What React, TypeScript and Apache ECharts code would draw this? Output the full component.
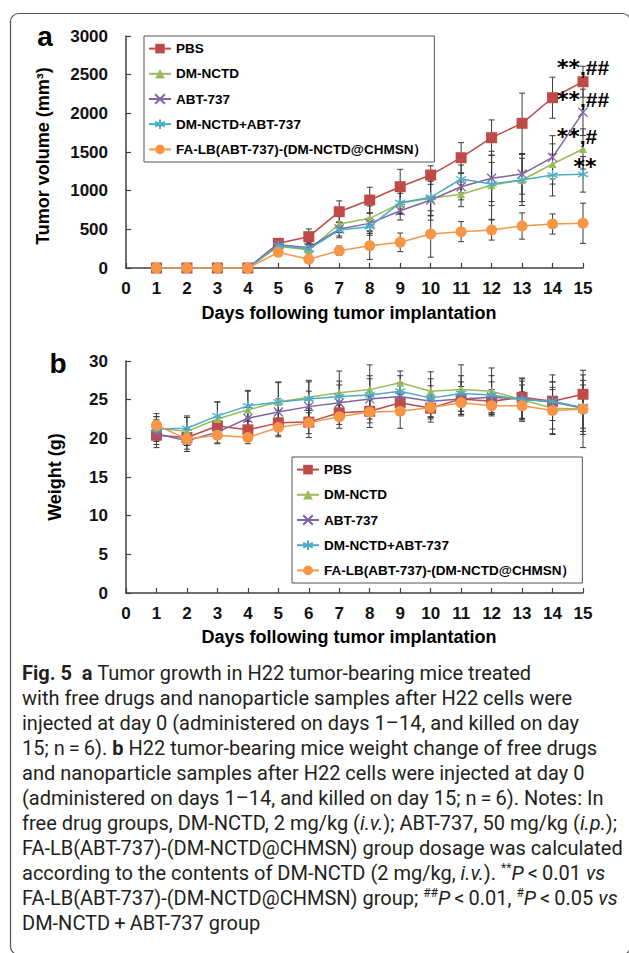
import React, { useEffect, useRef } from 'react';
import * as echarts from 'echarts';

// ---------- data ----------
const days = [1, 2, 3, 4, 5, 6, 7, 8, 9, 10, 11, 12, 13, 14, 15];
const groupNames = ['PBS', 'DM-NCTD', 'ABT-737', 'DM-NCTD+ABT-737', 'FA-LB(ABT-737)-(DM-NCTD@CHMSN）'];

// Tumor volume (mm3), panel a
const pbsVol = [0, 0, 0, 0, 319, 405, 728, 879, 1051, 1202, 1426, 1685, 1871, 2202, 2409];
const dmVol = [0, 0, 0, 0, 280, 233, 569, 642, 836, 901, 953, 1069, 1138, 1345, 1539];
const abtVol = [0, 0, 0, 0, 300, 262, 504, 577, 741, 879, 1051, 1160, 1215, 1431, 2013];
const comboVol = [0, 0, 0, 0, 290, 245, 491, 534, 845, 914, 1151, 1086, 1138, 1202, 1211];
const faVol = [0, 0, 0, 0, 203, 112, 224, 289, 332, 440, 470, 491, 543, 569, 578];

const pbsVolSd = [0, 0, 0, 0, 60, 100, 140, 165, 225, 120, 195, 230, 390, 265, 200];
const dmVolSd = [0, 0, 0, 0, 50, 70, 110, 160, 130, 220, 160, 440, 280, 260, 260];
const abtVolSd = [0, 0, 0, 0, 45, 60, 90, 130, 120, 260, 170, 300, 260, 280, 300];
const comboVolSd = [0, 0, 0, 0, 50, 80, 100, 110, 150, 240, 180, 280, 330, 270, 230];
const faVolSd = [0, 0, 0, 0, 40, 50, 60, 180, 120, 300, 130, 130, 170, 130, 260];

// Weight (g), panel b
const pbsW = [20.4, 20.1, 21.6, 21.1, 22.0, 22.1, 23.3, 23.5, 24.6, 23.9, 25.1, 24.8, 25.3, 24.8, 25.7];
const dmW = [21.3, 20.9, 22.5, 23.7, 24.7, 25.3, 25.9, 26.3, 27.2, 26.1, 26.3, 26.1, 25.0, 23.9, 23.8];
const abtW = [20.6, 19.7, 20.8, 22.6, 23.4, 24.1, 24.6, 25.1, 25.4, 24.8, 25.1, 25.3, 25.1, 24.7, 23.9];
const comboW = [21.2, 21.3, 22.9, 24.2, 24.7, 25.1, 25.4, 25.6, 26.1, 25.2, 25.8, 25.6, 25.0, 24.8, 24.0];
const faW = [21.7, 19.9, 20.4, 20.1, 21.4, 22.0, 22.8, 23.4, 23.5, 24.0, 24.6, 24.2, 24.2, 23.6, 23.8];

const pbsWSd = [1.2, 1.0, 1.2, 1.5, 1.6, 1.5, 1.5, 1.5, 1.5, 1.8, 1.6, 1.5, 1.6, 1.5, 2.5];
const dmWSd = [1.5, 1.8, 2.2, 2.4, 2.6, 2.0, 2.8, 3.2, 1.5, 2.5, 3.2, 3.0, 2.8, 3.4, 2.5];
const abtWSd = [1.8, 1.4, 1.5, 1.4, 1.7, 2.0, 2.3, 2.6, 1.8, 2.0, 2.2, 2.0, 2.6, 3.5, 3.0];
const comboWSd = [1.6, 1.6, 1.8, 2.0, 2.5, 2.4, 2.0, 2.5, 2.0, 2.5, 2.3, 2.5, 2.4, 2.5, 3.5];
const faWSd = [1.5, 1.3, 1.0, 0.8, 1.2, 1.9, 1.5, 2.0, 2.2, 1.5, 1.5, 1.3, 1.8, 3.0, 5.0];

// significance marks at day 15 (panel a)
const sigMarksFor: Record<string, string> = {
  PBS: '**,##',
  'DM-NCTD': '**,#',
  'ABT-737': '**,##',
  'DM-NCTD+ABT-737': '**',
};

const volTicks = { min: 0, max: 3000, interval: 500 };
const wTicks = { min: 0, max: 30, interval: 5 };
const dayTicks = { min: 0, max: 15, interval: 1 };

const xTitle = 'Days following tumor implantation';
const yTitleA = 'Tumor volume (mm³)';
const yTitleB = 'Weight (g)';

const captionLines = [
  '{b|Fig. 5}  {b|a} Tumor growth in H22 tumor-bearing mice treated',
  'with free drugs and nanoparticle samples after H22 cells were',
  'injected at day 0 (administered on days 1–14, and killed on day',
  '15; n\u2009=\u20096). {b|b} H22 tumor-bearing mice weight change of free drugs',
  'and nanoparticle samples after H22 cells were injected at day 0',
  '(administered on days 1–14, and killed on day 15; n\u2009=\u20096). Notes: In',
  'free drug groups, DM-NCTD, 2 mg/kg ({i|i.v.}); ABT-737, 50 mg/kg ({i|i.p.});',
  'FA-LB(ABT-737)-(DM-NCTD@CHMSN) group dosage was calculated',
  'according to the contents of DM-NCTD (2 mg/kg, {i|i.v.}). {s|**}{i|P}\u2009<\u20090.01 {i|vs}',
  'FA-LB(ABT-737)-(DM-NCTD@CHMSN) group; {s|##}{i|P}\u2009<\u20090.01, {s|#}{i|P}\u2009<\u20090.05 {i|vs}',
  'DM-NCTD\u2009+\u2009ABT-737 group',
];

// ---------- styles ----------
const FONT = '"Liberation Sans", Arial, Helvetica, sans-serif';
const CAP_FONT = 'Roboto, "Open Sans", sans-serif';
const CAP_SIZE = 20;
const CAP_COLOR = '#231f20';
const AXIS_COLOR = '#404040';

const styles = [
  { color: '#BE4B48', symbol: 'rect', size: 11, hollow: false },
  { color: '#9BBB59', symbol: 'triangle', size: 8, hollow: false },
  { color: '#8064A2', symbol: 'path://M0,0L10,10M10,0L0,10', size: 9, hollow: true },
  { color: '#4BACC6', symbol: 'path://M5,0L5,10M0.67,2.5L9.33,7.5M9.33,2.5L0.67,7.5', size: 10, hollow: true },
  { color: '#F79646', symbol: 'circle', size: 11, hollow: false },
];
const labelOffsets: Record<string, number[]> = {
  PBS: [0, -14],
  'DM-NCTD': [-6, -12],
  'ABT-737': [0, -13],
  'DM-NCTD+ABT-737': [2, -8],
};

const volData = [pbsVol, dmVol, abtVol, comboVol, faVol];
const volSd = [pbsVolSd, dmVolSd, abtVolSd, comboVolSd, faVolSd];
const wData = [pbsW, dmW, abtW, comboW, faW];
const wSd = [pbsWSd, dmWSd, abtWSd, comboWSd, faWSd];

function richMark(s: string) {
  return s
    .replace(/\*+/g, (m) => `{s|${m}}`)
    .replace(/,/g, '{h|,}')
    .replace(/#+/g, (m) => `{h|${m}}`);
}

function errRender(params: any, api: any) {
  const x = api.value(0);
  const lo = api.value(1);
  const hi = api.value(2);
  const p1 = api.coord([x, lo]);
  const p2 = api.coord([x, hi]);
  const w = 3;
  const st = { stroke: '#3a3a3a', lineWidth: 1 };
  return {
    type: 'group',
    children: [
      { type: 'line', shape: { x1: p1[0], y1: p1[1], x2: p2[0], y2: p2[1] }, style: st },
      { type: 'line', shape: { x1: p1[0] - w, y1: p1[1], x2: p1[0] + w, y2: p1[1] }, style: st },
      { type: 'line', shape: { x1: p2[0] - w, y1: p2[1], x2: p2[0] + w, y2: p2[1] }, style: st },
    ],
  };
}

function buildSeries() {
  const out: any[] = [];
  [0, 1].forEach((k) => {
    const vals = k === 0 ? volData : wData;
    const sds = k === 0 ? volSd : wSd;
    groupNames.forEach((name, gi) => {
      out.push({
        type: 'custom',
        xAxisIndex: k,
        yAxisIndex: k,
        z: 1,
        silent: true,
        renderItem: errRender,
        encode: { x: 0, y: [1, 2] },
        data: days
          .map((d, i) => [d, vals[gi][i] - sds[gi][i], vals[gi][i] + sds[gi][i]])
          .filter((r) => r[2] > r[1]),
      });
    });
  });
  [0, 1].forEach((k) => {
    const vals = k === 0 ? volData : wData;
    groupNames.forEach((name, gi) => {
      const st = styles[gi];
      const mark = sigMarksFor[name];
      out.push({
        type: 'line',
        name,
        xAxisIndex: k,
        yAxisIndex: k,
        z: 3 + gi,
        symbol: st.symbol,
        symbolSize: st.size,
        emphasis: { disabled: true },
        itemStyle: st.hollow
          ? { color: 'rgba(0,0,0,0)', borderColor: st.color, borderWidth: 1.3 }
          : { color: st.color },
        lineStyle: { color: st.color, width: 1.5 },
        data: days.map((d, i) => {
          const v = [d, vals[gi][i]];
          if (k === 0 && mark && i === days.length - 1) {
            return {
              value: v,
              label: {
                show: true,
                position: 'inside',
                offset: labelOffsets[name],
                formatter: richMark(mark),
                rich: {
                  s: { fontSize: 22, fontWeight: 'bold', fontFamily: '"DejaVu Sans", sans-serif', color: '#000', lineHeight: 24 },
                  h: { fontSize: 21, fontWeight: 'bold', fontFamily: FONT, color: '#000', lineHeight: 24 },
                },
              },
            };
          }
          return v;
        }),
      });
    });
  });
  return out;
}

function mkX(k: number) {
  return {
    type: 'value',
    gridIndex: k,
    ...dayTicks,
    axisLine: { show: true, onZero: false, lineStyle: { color: AXIS_COLOR, width: 1.5 } },
    axisTick: { show: true, inside: true, length: 5, lineStyle: { color: AXIS_COLOR, width: 1.2 } },
    axisLabel: { fontSize: 17, fontWeight: 'bold', fontFamily: FONT, color: '#111', margin: 12 },
    splitLine: { show: false },
  };
}
function mkY(k: number, t: any) {
  return {
    type: 'value',
    gridIndex: k,
    ...t,
    axisLine: { show: true, lineStyle: { color: AXIS_COLOR, width: 1.5 } },
    axisTick: { show: true, inside: true, length: 5, lineStyle: { color: AXIS_COLOR, width: 1.2 } },
    axisLabel: {
      fontSize: 17,
      fontWeight: 'bold',
      fontFamily: FONT,
      color: '#111',
      margin: 18,
      formatter: (v: number) => String(v),
    },
    splitLine: { show: false },
  };
}

function mkLegend(left: number, top: number) {
  return {
    data: groupNames,
    orient: 'vertical',
    left,
    top,
    padding: [5.6, 7, 5.6, 4],
    itemWidth: 22,
    itemHeight: 12,
    itemGap: 11.2,
    borderColor: '#555',
    borderWidth: 1,
    selectedMode: false,
    textStyle: { fontFamily: FONT, fontWeight: 'bold', fontSize: 13.5, color: '#000', lineHeight: 12 },
  };
}

function textEl(text: string, x: number, y: number, size: number, rotation = 0) {
  return {
    type: 'text',
    x,
    y,
    rotation,
    style: {
      text,
      fontFamily: FONT,
      fontWeight: 'bold',
      fontSize: size,
      fill: '#000',
      align: 'center',
      verticalAlign: 'middle',
      textAlign: 'center',
      textVerticalAlign: 'middle',
    },
  };
}

const capRich = {
  b: { fontFamily: CAP_FONT, fontSize: CAP_SIZE, fontWeight: 'bold', color: CAP_COLOR, lineHeight: 22 },
  i: { fontFamily: CAP_FONT, fontSize: CAP_SIZE, fontStyle: 'italic', color: CAP_COLOR, lineHeight: 22 },
  s: { fontFamily: CAP_FONT, fontSize: 12, color: CAP_COLOR, lineHeight: 22, verticalAlign: 'top' },
};

function buildGraphic() {
  const g: any[] = [
    {
      type: 'rect',
      shape: { x: 10.5, y: 13.5, width: 620, height: 941, r: 8 },
      style: { fill: 'none', stroke: '#555', lineWidth: 1.2 },
      z: 0,
    },
    textEl('a', 45, 36.5, 28),
    textEl('b', 58, 363, 28),
    textEl(xTitle, 349, 313, 18),
    textEl(xTitle, 349, 637, 18),
    textEl(yTitleA, 43, 156, 18, Math.PI / 2),
    textEl(yTitleB, 55, 477, 18, Math.PI / 2),
  ];
  captionLines.forEach((line, i) => {
    g.push({
      type: 'text',
      x: 22,
      y: 673 + i * 25,
      style: {
        text: line,
        fontFamily: CAP_FONT,
        fontSize: CAP_SIZE,
        fill: CAP_COLOR,
        lineHeight: 22,
        align: 'left',
        verticalAlign: 'middle',
        textAlign: 'left',
        textVerticalAlign: 'middle',
        rich: capRich,
      },
    });
  });
  return g;
}

export default function App() {
  const ref = useRef<HTMLDivElement>(null);
  useEffect(() => {
    const chart = echarts.init(ref.current!, null, { renderer: 'svg' });
    chart.setOption({
      animation: false,
      grid: [
        { left: 126, top: 36, width: 457, height: 232 },
        { left: 126, top: 361, width: 457, height: 232 },
      ],
      xAxis: [mkX(0), mkX(1)],
      yAxis: [mkY(0, volTicks), mkY(1, wTicks)],
      legend: [mkLegend(144, 36), mkLegend(292, 457)],
      series: buildSeries(),
      graphic: buildGraphic(),
    });
    return () => chart.dispose();
  }, []);
  return <div ref={ref} style={{ position: 'absolute', left: 0, top: 0, width: 629, height: 953 }} />;
}
